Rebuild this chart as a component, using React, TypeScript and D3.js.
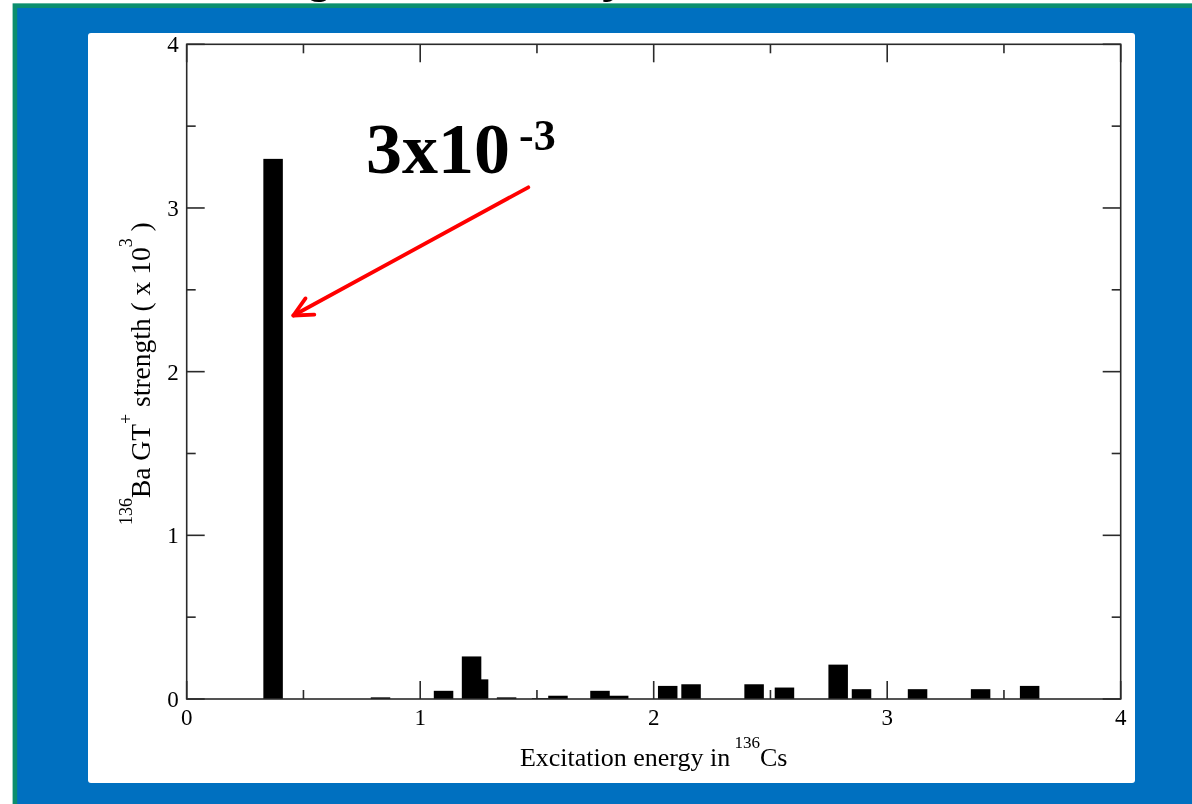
import React from "react";
import * as d3 from "d3";

// GT+ strength distribution of 136Ba into 136Cs states
const energies = [0.37, 0.83, 1.1, 1.25, 1.22, 1.37, 1.52, 1.59, 1.77, 1.85, 2.06, 2.16, 2.43, 2.56, 2.79, 2.89, 3.13, 3.4, 3.61];
const strengths = [3.3, 0.01, 0.05, 0.12, 0.26, 0.01, 0.005, 0.02, 0.05, 0.02, 0.08, 0.09, 0.09, 0.07, 0.21, 0.06, 0.06, 0.06, 0.08];
const majorTicks = [0, 1, 2, 3, 4];
const minorTicks = [0.5, 1.5, 2.5, 3.5];
const annotationMain = "3x10";
const annotationExp = "-3";
const peakStrength = 3.3;

const W = 1192;
const H = 804;
const frame = { left: 186.7, right: 1120.7, top: 44.3, bottom: 699 };
const barWidth = 0.0835;
const serif = "'Liberation Serif', 'Times New Roman', serif";

export default function App() {
  const x = d3.scaleLinear().domain([0, 4]).range([frame.left, frame.right]);
  const y = d3.scaleLinear().domain([0, 4]).range([frame.bottom, frame.top]);

  const majorLen = 18;
  const minorLen = 9;

  // red arrow from the label to the dominant bar
  const peakIdx = strengths.indexOf(peakStrength);
  const tip: [number, number] = [x(energies[peakIdx] + barWidth / 2) + 10.5, y(peakStrength * 0.71)];
  const tail: [number, number] = [528.3, 187.3];
  const ang = Math.atan2(tail[1] - tip[1], tail[0] - tip[0]);
  const headLen = 21;
  const spread = (26 * Math.PI) / 180;
  const arm = (s: number) => [tip[0] + headLen * Math.cos(ang + s), tip[1] + headLen * Math.sin(ang + s)];
  const a1 = arm(spread);
  const a2 = arm(-spread);

  const supSize = 17;
  const supShift = 18;

  return (
    <svg
      width={W}
      height={H}
      viewBox={`0 0 ${W} ${H}`}
      style={{ position: "fixed", left: 0, top: 0, display: "block" }}
    >
      <rect x={0} y={0} width={W} height={H} fill="#ffffff" />
      <text x={236} y={-7.5} fontFamily="'Liberation Sans', Arial, sans-serif" fontWeight="bold" fontSize={44.7} fill="#000">
        Single state decay
      </text>
      <rect x={14.9} y={5.65} width={W} height={H} fill="#0070C0" stroke="#0B8E6E" strokeWidth={4.6} />
      <rect x={88} y={33} width={1047} height={750} rx={3} fill="#ffffff" />

      {/* bars */}
      <g>
        {energies.map((e, i) => (
          <rect
            key={i}
            x={x(e - barWidth / 2)}
            y={y(strengths[i])}
            width={x(barWidth) - x(0)}
            height={y(0) - y(strengths[i])}
            fill="#000"
          />
        ))}
      </g>

      {/* frame */}
      <rect
        x={frame.left}
        y={frame.top}
        width={frame.right - frame.left}
        height={frame.bottom - frame.top}
        fill="none"
        stroke="#2a2a2a"
        strokeWidth={1.6}
      />

      {/* ticks on all sides, pointing inward */}
      <g stroke="#2a2a2a" strokeWidth={1.6}>
        {majorTicks.concat(minorTicks).map((t, i) => {
          const len = Number.isInteger(t) ? majorLen : minorLen;
          return (
            <g key={i}>
              <line x1={x(t)} x2={x(t)} y1={frame.bottom} y2={frame.bottom - len} />
              <line x1={x(t)} x2={x(t)} y1={frame.top} y2={frame.top + len} />
              <line x1={frame.left} x2={frame.left + len} y1={y(t)} y2={y(t)} />
              <line x1={frame.right} x2={frame.right - len} y1={y(t)} y2={y(t)} />
            </g>
          );
        })}
      </g>

      {/* tick labels */}
      <g fontFamily={serif} fontSize={23} fill="#000">
        {majorTicks.map((t) => (
          <text key={`x${t}`} x={x(t)} y={frame.bottom + 26} textAnchor="middle">
            {t}
          </text>
        ))}
        {majorTicks.map((t) => (
          <text key={`y${t}`} x={frame.left - 8} y={y(t) + 8} textAnchor="end">
            {t}
          </text>
        ))}
      </g>

      {/* axis titles */}
      <text x={(frame.left + frame.right) / 2} y={765.7} textAnchor="middle" fontFamily={serif} fontSize={26} fill="#000">
        Excitation energy in
        <tspan fontSize={supSize} dy={-supShift}> 136</tspan>
        <tspan dy={supShift}>Cs</tspan>
      </text>
      <text
        transform={`translate(150, ${(frame.top + frame.bottom) / 2 + 2}) rotate(-90)`}
        textAnchor="middle"
        fontFamily={serif}
        fontSize={27.5}
        fill="#000"
      >
        <tspan fontSize={supSize + 1} dy={-supShift}>136</tspan>
        <tspan dy={supShift}>Ba GT</tspan>
        <tspan fontSize={supSize + 1} dy={-supShift}>+</tspan>
        <tspan dy={supShift}> strength ( x 10</tspan>
        <tspan fontSize={supSize + 1} dy={-supShift}>3</tspan>
        <tspan dy={supShift}> )</tspan>
      </text>

      {/* annotation */}
      <text x={366} y={173.3} fontFamily={serif} fontWeight="bold" fontSize={72} fill="#000">
        {annotationMain}
        <tspan fontSize={44} dy={-23} dx={9}>{annotationExp}</tspan>
      </text>
      <g stroke="#ff0000" strokeWidth={3.8} strokeLinecap="round" fill="none">
        <line x1={tail[0]} y1={tail[1]} x2={tip[0]} y2={tip[1]} />
        <polyline points={`${a1[0]},${a1[1]} ${tip[0]},${tip[1]} ${a2[0]},${a2[1]}`} strokeLinejoin="round" />
      </g>
    </svg>
  );
}
